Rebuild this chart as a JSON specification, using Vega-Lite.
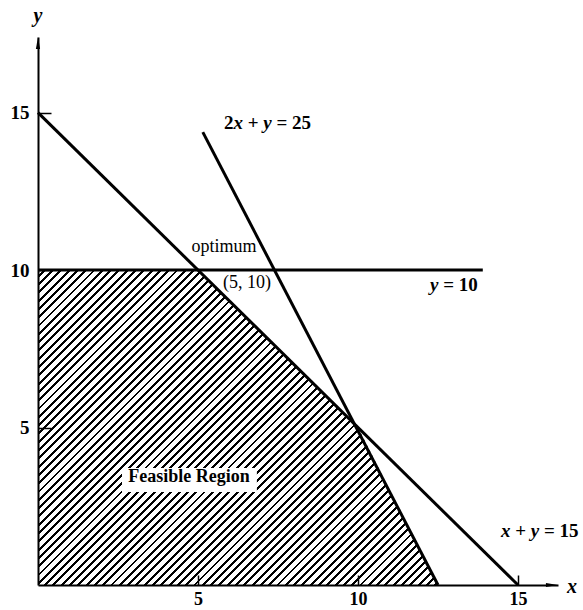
{
"$schema": "https://vega.github.io/schema/vega-lite/v6.json",
"width": 520, "height": 548,
"autosize": {"type": "none"},
"padding": {"left": 38, "top": 37, "right": 25, "bottom": 25},
"background": "white",
"config": {"view": {"stroke": null}, "font": "Liberation Serif"},
"encoding": {
  "x": {"field": "x", "type": "quantitative", "scale": {"domain": [0, 16.25], "nice": false},
        "axis": {"values": [5, 10, 15], "title": null, "grid": false, "zindex": 1, "domainColor": "black", "domainWidth": 2,
                 "tickColor": "black", "tickWidth": 1.5, "tickSize": -10, "labelPadding": 15, "labelFont": "Liberation Serif",
                 "labelFontSize": 18, "labelFontWeight": "bold", "labelColor": "black"}},
  "y": {"field": "y", "type": "quantitative", "scale": {"domain": [0, 17.4], "nice": false},
        "axis": {"values": [5, 10, 15], "title": null, "grid": false, "zindex": 1, "domainColor": "black", "domainWidth": 2,
                 "tickColor": "black", "tickWidth": 1.5, "tickSize": -13, "labelPadding": 22, "labelFont": "Liberation Serif",
                 "labelFontSize": 19, "labelFontWeight": "bold", "labelColor": "black"}}
},
"layer": [
  {"data": {"values": [{"x": 0, "y": 10}, {"x": 5, "y": 10}, {"x": 10, "y": 5}, {"x": 12.5, "y": 0}]},
   "mark": {"type": "area", "opacity": 1, "color": {"gradient": "linear", "x1": -0.09, "y1": -0.0709, "x2": 1.191, "y2": 0.9377, "stops": [
{"offset":0,"color":"#fff"},{"offset":0.0065,"color":"#fff"},{"offset":0.0065,"color":"#000"},{"offset":0.01,"color":"#000"},
{"offset":0.01,"color":"#fff"},{"offset":0.0165,"color":"#fff"},{"offset":0.0165,"color":"#000"},{"offset":0.02,"color":"#000"},
{"offset":0.02,"color":"#fff"},{"offset":0.0265,"color":"#fff"},{"offset":0.0265,"color":"#000"},{"offset":0.03,"color":"#000"},
{"offset":0.03,"color":"#fff"},{"offset":0.0365,"color":"#fff"},{"offset":0.0365,"color":"#000"},{"offset":0.04,"color":"#000"},
{"offset":0.04,"color":"#fff"},{"offset":0.0465,"color":"#fff"},{"offset":0.0465,"color":"#000"},{"offset":0.05,"color":"#000"},
{"offset":0.05,"color":"#fff"},{"offset":0.0565,"color":"#fff"},{"offset":0.0565,"color":"#000"},{"offset":0.06,"color":"#000"},
{"offset":0.06,"color":"#fff"},{"offset":0.0665,"color":"#fff"},{"offset":0.0665,"color":"#000"},{"offset":0.07,"color":"#000"},
{"offset":0.07,"color":"#fff"},{"offset":0.0765,"color":"#fff"},{"offset":0.0765,"color":"#000"},{"offset":0.08,"color":"#000"},
{"offset":0.08,"color":"#fff"},{"offset":0.0865,"color":"#fff"},{"offset":0.0865,"color":"#000"},{"offset":0.09,"color":"#000"},
{"offset":0.09,"color":"#fff"},{"offset":0.0965,"color":"#fff"},{"offset":0.0965,"color":"#000"},{"offset":0.10,"color":"#000"},
{"offset":0.10,"color":"#fff"},{"offset":0.1065,"color":"#fff"},{"offset":0.1065,"color":"#000"},{"offset":0.11,"color":"#000"},
{"offset":0.11,"color":"#fff"},{"offset":0.1165,"color":"#fff"},{"offset":0.1165,"color":"#000"},{"offset":0.12,"color":"#000"},
{"offset":0.12,"color":"#fff"},{"offset":0.1265,"color":"#fff"},{"offset":0.1265,"color":"#000"},{"offset":0.13,"color":"#000"},
{"offset":0.13,"color":"#fff"},{"offset":0.1365,"color":"#fff"},{"offset":0.1365,"color":"#000"},{"offset":0.14,"color":"#000"},
{"offset":0.14,"color":"#fff"},{"offset":0.1465,"color":"#fff"},{"offset":0.1465,"color":"#000"},{"offset":0.15,"color":"#000"},
{"offset":0.15,"color":"#fff"},{"offset":0.1565,"color":"#fff"},{"offset":0.1565,"color":"#000"},{"offset":0.16,"color":"#000"},
{"offset":0.16,"color":"#fff"},{"offset":0.1665,"color":"#fff"},{"offset":0.1665,"color":"#000"},{"offset":0.17,"color":"#000"},
{"offset":0.17,"color":"#fff"},{"offset":0.1765,"color":"#fff"},{"offset":0.1765,"color":"#000"},{"offset":0.18,"color":"#000"},
{"offset":0.18,"color":"#fff"},{"offset":0.1865,"color":"#fff"},{"offset":0.1865,"color":"#000"},{"offset":0.19,"color":"#000"},
{"offset":0.19,"color":"#fff"},{"offset":0.1965,"color":"#fff"},{"offset":0.1965,"color":"#000"},{"offset":0.20,"color":"#000"},
{"offset":0.20,"color":"#fff"},{"offset":0.2065,"color":"#fff"},{"offset":0.2065,"color":"#000"},{"offset":0.21,"color":"#000"},
{"offset":0.21,"color":"#fff"},{"offset":0.2165,"color":"#fff"},{"offset":0.2165,"color":"#000"},{"offset":0.22,"color":"#000"},
{"offset":0.22,"color":"#fff"},{"offset":0.2265,"color":"#fff"},{"offset":0.2265,"color":"#000"},{"offset":0.23,"color":"#000"},
{"offset":0.23,"color":"#fff"},{"offset":0.2365,"color":"#fff"},{"offset":0.2365,"color":"#000"},{"offset":0.24,"color":"#000"},
{"offset":0.24,"color":"#fff"},{"offset":0.2465,"color":"#fff"},{"offset":0.2465,"color":"#000"},{"offset":0.25,"color":"#000"},
{"offset":0.25,"color":"#fff"},{"offset":0.2565,"color":"#fff"},{"offset":0.2565,"color":"#000"},{"offset":0.26,"color":"#000"},
{"offset":0.26,"color":"#fff"},{"offset":0.2665,"color":"#fff"},{"offset":0.2665,"color":"#000"},{"offset":0.27,"color":"#000"},
{"offset":0.27,"color":"#fff"},{"offset":0.2765,"color":"#fff"},{"offset":0.2765,"color":"#000"},{"offset":0.28,"color":"#000"},
{"offset":0.28,"color":"#fff"},{"offset":0.2865,"color":"#fff"},{"offset":0.2865,"color":"#000"},{"offset":0.29,"color":"#000"},
{"offset":0.29,"color":"#fff"},{"offset":0.2965,"color":"#fff"},{"offset":0.2965,"color":"#000"},{"offset":0.30,"color":"#000"},
{"offset":0.30,"color":"#fff"},{"offset":0.3065,"color":"#fff"},{"offset":0.3065,"color":"#000"},{"offset":0.31,"color":"#000"},
{"offset":0.31,"color":"#fff"},{"offset":0.3165,"color":"#fff"},{"offset":0.3165,"color":"#000"},{"offset":0.32,"color":"#000"},
{"offset":0.32,"color":"#fff"},{"offset":0.3265,"color":"#fff"},{"offset":0.3265,"color":"#000"},{"offset":0.33,"color":"#000"},
{"offset":0.33,"color":"#fff"},{"offset":0.3365,"color":"#fff"},{"offset":0.3365,"color":"#000"},{"offset":0.34,"color":"#000"},
{"offset":0.34,"color":"#fff"},{"offset":0.3465,"color":"#fff"},{"offset":0.3465,"color":"#000"},{"offset":0.35,"color":"#000"},
{"offset":0.35,"color":"#fff"},{"offset":0.3565,"color":"#fff"},{"offset":0.3565,"color":"#000"},{"offset":0.36,"color":"#000"},
{"offset":0.36,"color":"#fff"},{"offset":0.3665,"color":"#fff"},{"offset":0.3665,"color":"#000"},{"offset":0.37,"color":"#000"},
{"offset":0.37,"color":"#fff"},{"offset":0.3765,"color":"#fff"},{"offset":0.3765,"color":"#000"},{"offset":0.38,"color":"#000"},
{"offset":0.38,"color":"#fff"},{"offset":0.3865,"color":"#fff"},{"offset":0.3865,"color":"#000"},{"offset":0.39,"color":"#000"},
{"offset":0.39,"color":"#fff"},{"offset":0.3965,"color":"#fff"},{"offset":0.3965,"color":"#000"},{"offset":0.40,"color":"#000"},
{"offset":0.40,"color":"#fff"},{"offset":0.4065,"color":"#fff"},{"offset":0.4065,"color":"#000"},{"offset":0.41,"color":"#000"},
{"offset":0.41,"color":"#fff"},{"offset":0.4165,"color":"#fff"},{"offset":0.4165,"color":"#000"},{"offset":0.42,"color":"#000"},
{"offset":0.42,"color":"#fff"},{"offset":0.4265,"color":"#fff"},{"offset":0.4265,"color":"#000"},{"offset":0.43,"color":"#000"},
{"offset":0.43,"color":"#fff"},{"offset":0.4365,"color":"#fff"},{"offset":0.4365,"color":"#000"},{"offset":0.44,"color":"#000"},
{"offset":0.44,"color":"#fff"},{"offset":0.4465,"color":"#fff"},{"offset":0.4465,"color":"#000"},{"offset":0.45,"color":"#000"},
{"offset":0.45,"color":"#fff"},{"offset":0.4565,"color":"#fff"},{"offset":0.4565,"color":"#000"},{"offset":0.46,"color":"#000"},
{"offset":0.46,"color":"#fff"},{"offset":0.4665,"color":"#fff"},{"offset":0.4665,"color":"#000"},{"offset":0.47,"color":"#000"},
{"offset":0.47,"color":"#fff"},{"offset":0.4765,"color":"#fff"},{"offset":0.4765,"color":"#000"},{"offset":0.48,"color":"#000"},
{"offset":0.48,"color":"#fff"},{"offset":0.4865,"color":"#fff"},{"offset":0.4865,"color":"#000"},{"offset":0.49,"color":"#000"},
{"offset":0.49,"color":"#fff"},{"offset":0.4965,"color":"#fff"},{"offset":0.4965,"color":"#000"},{"offset":0.50,"color":"#000"},
{"offset":0.50,"color":"#fff"},{"offset":0.5065,"color":"#fff"},{"offset":0.5065,"color":"#000"},{"offset":0.51,"color":"#000"},
{"offset":0.51,"color":"#fff"},{"offset":0.5165,"color":"#fff"},{"offset":0.5165,"color":"#000"},{"offset":0.52,"color":"#000"},
{"offset":0.52,"color":"#fff"},{"offset":0.5265,"color":"#fff"},{"offset":0.5265,"color":"#000"},{"offset":0.53,"color":"#000"},
{"offset":0.53,"color":"#fff"},{"offset":0.5365,"color":"#fff"},{"offset":0.5365,"color":"#000"},{"offset":0.54,"color":"#000"},
{"offset":0.54,"color":"#fff"},{"offset":0.5465,"color":"#fff"},{"offset":0.5465,"color":"#000"},{"offset":0.55,"color":"#000"},
{"offset":0.55,"color":"#fff"},{"offset":0.5565,"color":"#fff"},{"offset":0.5565,"color":"#000"},{"offset":0.56,"color":"#000"},
{"offset":0.56,"color":"#fff"},{"offset":0.5665,"color":"#fff"},{"offset":0.5665,"color":"#000"},{"offset":0.57,"color":"#000"},
{"offset":0.57,"color":"#fff"},{"offset":0.5765,"color":"#fff"},{"offset":0.5765,"color":"#000"},{"offset":0.58,"color":"#000"},
{"offset":0.58,"color":"#fff"},{"offset":0.5865,"color":"#fff"},{"offset":0.5865,"color":"#000"},{"offset":0.59,"color":"#000"},
{"offset":0.59,"color":"#fff"},{"offset":0.5965,"color":"#fff"},{"offset":0.5965,"color":"#000"},{"offset":0.60,"color":"#000"},
{"offset":0.60,"color":"#fff"},{"offset":0.6065,"color":"#fff"},{"offset":0.6065,"color":"#000"},{"offset":0.61,"color":"#000"},
{"offset":0.61,"color":"#fff"},{"offset":0.6165,"color":"#fff"},{"offset":0.6165,"color":"#000"},{"offset":0.62,"color":"#000"},
{"offset":0.62,"color":"#fff"},{"offset":0.6265,"color":"#fff"},{"offset":0.6265,"color":"#000"},{"offset":0.63,"color":"#000"},
{"offset":0.63,"color":"#fff"},{"offset":0.6365,"color":"#fff"},{"offset":0.6365,"color":"#000"},{"offset":0.64,"color":"#000"},
{"offset":0.64,"color":"#fff"},{"offset":0.6465,"color":"#fff"},{"offset":0.6465,"color":"#000"},{"offset":0.65,"color":"#000"},
{"offset":0.65,"color":"#fff"},{"offset":0.6565,"color":"#fff"},{"offset":0.6565,"color":"#000"},{"offset":0.66,"color":"#000"},
{"offset":0.66,"color":"#fff"},{"offset":0.6665,"color":"#fff"},{"offset":0.6665,"color":"#000"},{"offset":0.67,"color":"#000"},
{"offset":0.67,"color":"#fff"},{"offset":0.6765,"color":"#fff"},{"offset":0.6765,"color":"#000"},{"offset":0.68,"color":"#000"},
{"offset":0.68,"color":"#fff"},{"offset":0.6865,"color":"#fff"},{"offset":0.6865,"color":"#000"},{"offset":0.69,"color":"#000"},
{"offset":0.69,"color":"#fff"},{"offset":0.6965,"color":"#fff"},{"offset":0.6965,"color":"#000"},{"offset":0.70,"color":"#000"},
{"offset":0.70,"color":"#fff"},{"offset":0.7065,"color":"#fff"},{"offset":0.7065,"color":"#000"},{"offset":0.71,"color":"#000"},
{"offset":0.71,"color":"#fff"},{"offset":0.7165,"color":"#fff"},{"offset":0.7165,"color":"#000"},{"offset":0.72,"color":"#000"},
{"offset":0.72,"color":"#fff"},{"offset":0.7265,"color":"#fff"},{"offset":0.7265,"color":"#000"},{"offset":0.73,"color":"#000"},
{"offset":0.73,"color":"#fff"},{"offset":0.7365,"color":"#fff"},{"offset":0.7365,"color":"#000"},{"offset":0.74,"color":"#000"},
{"offset":0.74,"color":"#fff"},{"offset":0.7465,"color":"#fff"},{"offset":0.7465,"color":"#000"},{"offset":0.75,"color":"#000"},
{"offset":0.75,"color":"#fff"},{"offset":0.7565,"color":"#fff"},{"offset":0.7565,"color":"#000"},{"offset":0.76,"color":"#000"},
{"offset":0.76,"color":"#fff"},{"offset":0.7665,"color":"#fff"},{"offset":0.7665,"color":"#000"},{"offset":0.77,"color":"#000"},
{"offset":0.77,"color":"#fff"},{"offset":0.7765,"color":"#fff"},{"offset":0.7765,"color":"#000"},{"offset":0.78,"color":"#000"},
{"offset":0.78,"color":"#fff"},{"offset":0.7865,"color":"#fff"},{"offset":0.7865,"color":"#000"},{"offset":0.79,"color":"#000"},
{"offset":0.79,"color":"#fff"},{"offset":0.7965,"color":"#fff"},{"offset":0.7965,"color":"#000"},{"offset":0.80,"color":"#000"},
{"offset":0.80,"color":"#fff"},{"offset":0.8065,"color":"#fff"},{"offset":0.8065,"color":"#000"},{"offset":0.81,"color":"#000"},
{"offset":0.81,"color":"#fff"},{"offset":0.8165,"color":"#fff"},{"offset":0.8165,"color":"#000"},{"offset":0.82,"color":"#000"},
{"offset":0.82,"color":"#fff"},{"offset":0.8265,"color":"#fff"},{"offset":0.8265,"color":"#000"},{"offset":0.83,"color":"#000"},
{"offset":0.83,"color":"#fff"},{"offset":0.8365,"color":"#fff"},{"offset":0.8365,"color":"#000"},{"offset":0.84,"color":"#000"},
{"offset":0.84,"color":"#fff"},{"offset":0.8465,"color":"#fff"},{"offset":0.8465,"color":"#000"},{"offset":0.85,"color":"#000"},
{"offset":0.85,"color":"#fff"},{"offset":0.8565,"color":"#fff"},{"offset":0.8565,"color":"#000"},{"offset":0.86,"color":"#000"},
{"offset":0.86,"color":"#fff"},{"offset":0.8665,"color":"#fff"},{"offset":0.8665,"color":"#000"},{"offset":0.87,"color":"#000"},
{"offset":0.87,"color":"#fff"},{"offset":0.8765,"color":"#fff"},{"offset":0.8765,"color":"#000"},{"offset":0.88,"color":"#000"},
{"offset":0.88,"color":"#fff"},{"offset":0.8865,"color":"#fff"},{"offset":0.8865,"color":"#000"},{"offset":0.89,"color":"#000"},
{"offset":0.89,"color":"#fff"},{"offset":0.8965,"color":"#fff"},{"offset":0.8965,"color":"#000"},{"offset":0.90,"color":"#000"},
{"offset":0.90,"color":"#fff"},{"offset":0.9065,"color":"#fff"},{"offset":0.9065,"color":"#000"},{"offset":0.91,"color":"#000"},
{"offset":0.91,"color":"#fff"},{"offset":0.9165,"color":"#fff"},{"offset":0.9165,"color":"#000"},{"offset":0.92,"color":"#000"},
{"offset":0.92,"color":"#fff"},{"offset":0.9265,"color":"#fff"},{"offset":0.9265,"color":"#000"},{"offset":0.93,"color":"#000"},
{"offset":0.93,"color":"#fff"},{"offset":0.9365,"color":"#fff"},{"offset":0.9365,"color":"#000"},{"offset":0.94,"color":"#000"},
{"offset":0.94,"color":"#fff"},{"offset":0.9465,"color":"#fff"},{"offset":0.9465,"color":"#000"},{"offset":0.95,"color":"#000"},
{"offset":0.95,"color":"#fff"},{"offset":0.9565,"color":"#fff"},{"offset":0.9565,"color":"#000"},{"offset":0.96,"color":"#000"},
{"offset":0.96,"color":"#fff"},{"offset":0.9665,"color":"#fff"},{"offset":0.9665,"color":"#000"},{"offset":0.97,"color":"#000"},
{"offset":0.97,"color":"#fff"},{"offset":0.9765,"color":"#fff"},{"offset":0.9765,"color":"#000"},{"offset":0.98,"color":"#000"},
{"offset":0.98,"color":"#fff"},{"offset":0.9865,"color":"#fff"},{"offset":0.9865,"color":"#000"},{"offset":0.99,"color":"#000"},
{"offset":0.99,"color":"#fff"},{"offset":0.9965,"color":"#fff"},{"offset":0.9965,"color":"#000"},{"offset":1,"color":"#000"}
   ]}}},
  {"data": {"values": [{"x": 2.625, "x2": 6.84, "y": 2.95, "y2": 3.715}]},
   "mark": {"type": "rect", "color": "white", "opacity": 1},
   "encoding": {"x2": {"field": "x2"}, "y2": {"field": "y2"}}},
  {"data": {"values": [
     {"id": "a", "x": 0, "y": 15}, {"id": "a", "x": 15, "y": 0},
     {"id": "b", "x": 5.15, "y": 14.38}, {"id": "b", "x": 12.5, "y": 0},
     {"id": "c", "x": 0, "y": 10}, {"id": "c", "x": 13.9, "y": 10}]},
   "mark": {"type": "line", "color": "black", "strokeWidth": 3},
   "encoding": {"detail": {"field": "id", "type": "nominal"}}},
  {"data": {"values": [{"x": 0, "y": 17.21}]},
   "mark": {"type": "point", "shape": "M0,-1L0.35,1L-0.35,1Z", "filled": true, "color": "black", "size": 144, "opacity": 1}},
  {"data": {"values": [{"x": 16.06, "y": 0}]},
   "mark": {"type": "point", "shape": "M1,0L-1,0.35L-1,-0.35Z", "filled": true, "color": "black", "size": 144, "opacity": 1}},
  {"data": {"values": [
     {"t": "2", "x": 5.8125, "y": 14.67},
     {"t": "+", "x": 6.555, "y": 14.67},
     {"t": "= 25", "x": 7.454, "y": 14.67},
     {"t": "= 10", "x": 12.662, "y": 9.53},
     {"t": "+", "x": 14.914, "y": 1.72},
     {"t": "= 15", "x": 15.813, "y": 1.72}]},
   "mark": {"type": "text", "font": "Liberation Serif", "fontWeight": "bold", "fontSize": 19, "color": "black", "align": "left", "baseline": "middle"},
   "encoding": {"text": {"field": "t"}}},
  {"data": {"values": [
     {"t": "x", "x": 6.109, "y": 14.67},
     {"t": "y", "x": 7.042, "y": 14.67},
     {"t": "y", "x": 12.25, "y": 9.53},
     {"t": "x", "x": 14.469, "y": 1.72},
     {"t": "y", "x": 15.401, "y": 1.72}]},
   "mark": {"type": "text", "font": "Liberation Serif", "fontWeight": "bold", "fontStyle": "italic", "fontSize": 19, "color": "black", "align": "left", "baseline": "middle"},
   "encoding": {"text": {"field": "t"}}},
  {"data": {"values": [
     {"t": "Feasible Region", "x": 4.72, "y": 3.43}]},
   "mark": {"type": "text", "font": "Liberation Serif", "fontWeight": "bold", "fontSize": 18, "color": "black", "align": "center", "baseline": "middle"},
   "encoding": {"text": {"field": "t"}}},
  {"data": {"values": [
     {"t": "optimum", "x": 5.81, "y": 10.73},
     {"t": "(5, 10)", "x": 6.53, "y": 9.59}]},
   "mark": {"type": "text", "font": "Liberation Serif", "fontSize": 18, "color": "black", "align": "center", "baseline": "middle"},
   "encoding": {"text": {"field": "t"}}},
  {"data": {"values": [
     {"t": "y", "x": 0, "y": 18.07},
     {"t": "x", "x": 16.69, "y": -0.06}]},
   "mark": {"type": "text", "font": "Liberation Serif", "fontWeight": "bold", "fontStyle": "italic", "fontSize": 20, "color": "black", "align": "center", "baseline": "middle"},
   "encoding": {"text": {"field": "t"}}}
]
}
